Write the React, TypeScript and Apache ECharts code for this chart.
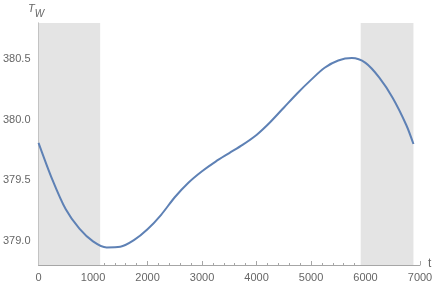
import React, { useEffect, useRef } from "react";
import * as echarts from "echarts";

const tValues = [0, 250, 500, 750, 1000, 1250, 1500, 1750, 2000, 2250, 2500, 2750, 3000, 3250, 3500, 3750, 4000, 4250, 4500, 4750, 5000, 5250, 5500, 5750, 6000, 6250, 6500, 6750, 6880];
const twValues = [379.8, 379.5, 379.25, 379.09, 378.985, 378.935, 378.94, 378.995, 379.085, 379.205, 379.35, 379.47, 379.565, 379.645, 379.715, 379.785, 379.865, 379.97, 380.09, 380.21, 380.32, 380.42, 380.48, 380.5, 380.46, 380.34, 380.17, 379.945, 379.79];
const shadedRanges = [[0, 1131], [5912, 6880]];
const yMajorTicks = [379, 379.5, 380, 380.5];
const yMinorTicks = [378.8, 378.9, 379.1, 379.2, 379.3, 379.4, 379.6, 379.7, 379.8, 379.9, 380.1, 380.2, 380.3, 380.4, 380.6, 380.7];
const xMax = 7000;
const xInterval = 1000;

export default function App() {
  const ref = useRef<HTMLDivElement>(null);
  useEffect(() => {
    if (!ref.current) return;
    const chart = echarts.init(ref.current, undefined, { renderer: "svg" });
    const axisColor = "#a6a6a6";
    const labelColor = "#666";
    const font = "Liberation Sans, Arial, sans-serif";
    chart.setOption({
      animation: false,
      grid: { left: 36, right: 16, top: 23, bottom: 20 },
      xAxis: {
        type: "value",
        min: 0,
        max: xMax,
        interval: xInterval,
        axisLine: { show: true, lineStyle: { color: axisColor, width: 1 } },
        axisTick: { show: true, inside: true, length: 4, lineStyle: { color: axisColor } },
        minorTick: { show: true, splitNumber: 5, length: 2, lineStyle: { color: axisColor } },
        splitLine: { show: false },
        axisLabel: { color: labelColor, fontSize: 11, fontFamily: font, margin: 6, formatter: (v: number) => String(v) },
      },
      yAxis: [
        {
          type: "value",
          min: 378.79,
          max: 380.79,
          axisLine: { show: true, onZero: false, lineStyle: { color: axisColor, width: 1 } },
          axisTick: { show: true, inside: true, length: 4, customValues: yMajorTicks, lineStyle: { color: axisColor } },
          axisLabel: {
            color: labelColor,
            fontSize: 11,
            fontFamily: font,
            margin: 8,
            customValues: yMajorTicks,
            formatter: (v: number) => v.toFixed(1),
          },
          splitLine: { show: false },
        },
        {
          type: "value",
          min: 378.79,
          max: 380.79,
          position: "left",
          offset: 0,
          axisLine: { show: false },
          axisTick: { show: true, inside: true, length: 2, customValues: yMinorTicks, lineStyle: { color: axisColor } },
          axisLabel: { show: false },
          splitLine: { show: false },
        },
      ],
      graphic: [
        {
          type: "text",
          left: 28,
          top: 2,
          style: {
            text: "{t|T}{w|W}",
            rich: {
              t: { fontSize: 11, fontStyle: "italic", fill: labelColor, fontFamily: font, verticalAlign: "top", padding: [0, 0, 5, 0] },
              w: { fontSize: 10, fontStyle: "italic", fill: labelColor, fontFamily: font, padding: [6, 0, 0, 0] },
            },
          },
        },
        {
          type: "text",
          left: 428,
          top: 257,
          style: { text: "t", fontSize: 12, fill: labelColor, fontFamily: font },
        },
      ],
      series: [
        {
          type: "line",
          data: [],
          z: 1,
          silent: true,
          markArea: {
            silent: true,
            itemStyle: { color: "#e4e4e4" },
            data: shadedRanges.map((r) => [{ xAxis: r[0] }, { xAxis: r[1] }]),
          },
        },
        {
          type: "line",
          z: 3,
          data: tValues.map((t, i) => [t, twValues[i]]),
          smooth: 0.3,
          showSymbol: false,
          lineStyle: { color: "#5E81B5", width: 2 },
        },
      ],
    });
    return () => chart.dispose();
  }, []);
  return <div ref={ref} style={{ position: "fixed", left: 0, top: 0, width: 436, height: 285 }} />;
}
